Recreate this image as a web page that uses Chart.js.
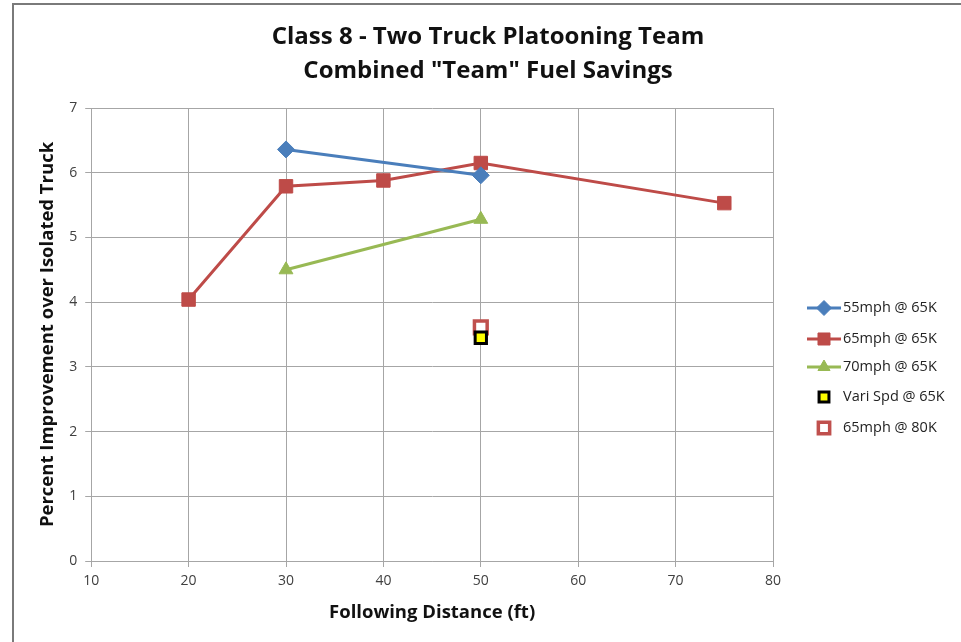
<!DOCTYPE html>
<html>
<head>
<meta charset="utf-8">
<script src="https://cdn.jsdelivr.net/npm/chart.js@4"></script>
<style>
  html, body { margin: 0; padding: 0; background: #fff; }
  #wrap { position: relative; width: 961px; height: 642px; }
  #frame { position: absolute; left: 12px; top: 3px; right: 0; bottom: 0;
           border-top: 2px solid #7a7a7a; border-left: 2px solid #7a7a7a; }
  canvas { position: absolute; left: 0; top: 0; }
</style>
</head>
<body>
<div id="wrap">
  <div id="frame"></div>
  <canvas id="chart" width="961" height="642"></canvas>
</div>
<script>
// following distance (ft) and percent improvement
const dist55 = [30, 50];
const save55 = [6.36, 5.96];

const dist65 = [20, 30, 40, 50, 75];
const save65 = [4.04, 5.79, 5.88, 6.15, 5.53];

const dist70 = [30, 50];
const save70 = [4.50, 5.28];

const distVari = [50];
const saveVari = [3.45];

const dist80K = [50];
const save80K = [3.61];

const seriesNames = ["55mph @ 65K", "65mph @ 65K", "70mph @ 65K", "Vari Spd @ 65K", "65mph @ 80K"];
const titleLines = ["Class 8 - Two Truck Platooning Team", "Combined \"Team\" Fuel Savings"];

const xTicks = [10, 20, 30, 40, 50, 60, 70, 80];
const yTicks = [0, 1, 2, 3, 4, 5, 6, 7];

function pts(xs, ys){
    return xs.map((x, i) => ({x: x, y: ys[i]}));
}

const FONT = "'Open Sans', sans-serif";

// title centred over the whole frame, like the Excel chart
const frameTitle = {
    id: "frameTitle",
    afterDraw(chart){
        const ctx = chart.ctx;
        ctx.save();
        ctx.fillStyle = "#111";
        ctx.font = "bold 24px " + FONT;
        ctx.textAlign = "center";
        ctx.textBaseline = "middle";
        ctx.fillText(titleLines[0], 488, 37);
        ctx.fillText(titleLines[1], 488, 71);
        ctx.restore();
    }
};

// legend drawn at right, Excel style (line + marker)
const sideLegend = {
    id: "sideLegend",
    afterDraw(chart){
        const ctx = chart.ctx;
        const x0 = 807, x1 = 841;
        const rows = [308, 339, 367, 397, 428];
        ctx.save();
        chart.data.datasets.forEach((ds, i) => {
            const y = rows[i];
            if(ds.showLine){
                ctx.strokeStyle = ds.borderColor;
                ctx.lineWidth = 3;
                ctx.beginPath();
                ctx.moveTo(x0, y);
                ctx.lineTo(x1, y);
                ctx.stroke();
            }
            ctx.fillStyle = ds.pointBackgroundColor;
            ctx.strokeStyle = ds.pointBorderColor;
            ctx.lineWidth = ds.pointBorderWidth;
            Chart.helpers.drawPoint(ctx, {
                pointStyle: ds.pointStyle,
                rotation: 0,
                radius: ds.legendRadius,
                borderWidth: ds.pointBorderWidth
            }, (x0 + x1) / 2, y);
            ctx.fillStyle = "#222";
            ctx.font = "14.5px " + FONT;
            ctx.textBaseline = "middle";
            ctx.textAlign = "left";
            ctx.fillText(ds.label, 843, y);
        });
        ctx.restore();
    }
};

new Chart(document.getElementById("chart"), {
    type: "scatter",
    data: {
        datasets: [
            {
                label: seriesNames[0],
                data: pts(dist55, save55),
                showLine: true,
                borderColor: "#4a7ebb",
                borderWidth: 3,
                pointStyle: "rectRot",
                pointRadius: 8.5,
                legendRadius: 7.5,
                pointBackgroundColor: "#4a7ebb",
                pointBorderColor: "#4a7ebb",
                pointBorderWidth: 1
            },
            {
                label: seriesNames[1],
                data: pts(dist65, save65),
                showLine: true,
                borderColor: "#be4b48",
                borderWidth: 3,
                pointStyle: "rect",
                pointRadius: 9.5,
                legendRadius: 8.5,
                pointBackgroundColor: "#be4b48",
                pointBorderColor: "#be4b48",
                pointBorderWidth: 1
            },
            {
                label: seriesNames[2],
                data: pts(dist70, save70),
                showLine: true,
                borderColor: "#98b954",
                borderWidth: 3,
                pointStyle: "triangle",
                pointRadius: 8,
                legendRadius: 7,
                pointBackgroundColor: "#98b954",
                pointBorderColor: "#98b954",
                pointBorderWidth: 1
            },
            {
                label: seriesNames[3],
                data: pts(distVari, saveVari),
                showLine: false,
                borderColor: "#000000",
                pointStyle: "rect",
                pointRadius: 8,
                legendRadius: 7,
                pointBackgroundColor: "#ffff00",
                pointBorderColor: "#000000",
                pointBorderWidth: 3
            },
            {
                label: seriesNames[4],
                data: pts(dist80K, save80K),
                showLine: false,
                borderColor: "#be4b48",
                pointStyle: "rect",
                pointRadius: 9,
                legendRadius: 8,
                pointBackgroundColor: "#ffffff",
                pointBorderColor: "#c0504d",
                pointBorderWidth: 3.5
            }
        ]
    },
    options: {
        responsive: false,
        animation: false,
        layout: { padding: { top: 108, right: 188, left: 33, bottom: 14 } },
        plugins: {
            legend: { display: false },
            tooltip: { enabled: false },
            title: { display: false }
        },
        scales: {
            x: {
                type: "linear",
                min: 10,
                max: 80,
                afterBuildTicks(scale){ scale.ticks = xTicks.map(v => ({value: v})); },
                grid: { color: "#a6a6a6", lineWidth: 1, tickLength: 6 },
                border: { color: "#a6a6a6" },
                ticks: { color: "#404040", font: { family: FONT, size: 14 }, padding: 6 },
                title: {
                    display: true,
                    text: "Following Distance (ft)",
                    color: "#111",
                    font: { family: FONT, size: 18.5, weight: "bold" },
                    padding: { top: 6 }
                }
            },
            y: {
                type: "linear",
                min: 0,
                max: 7,
                afterBuildTicks(scale){ scale.ticks = yTicks.map(v => ({value: v})); },
                grid: { color: "#a6a6a6", lineWidth: 1, tickLength: 6 },
                border: { color: "#a6a6a6" },
                ticks: { color: "#404040", font: { family: FONT, size: 14 }, padding: 8 },
                title: {
                    display: true,
                    text: "Percent Improvement over Isolated Truck",
                    color: "#111",
                    font: { family: FONT, size: 18.5, weight: "bold" },
                    padding: { top: 4, bottom: 2 }
                }
            }
        }
    },
    plugins: [frameTitle, sideLegend]
});
</script>
</body>
</html>
